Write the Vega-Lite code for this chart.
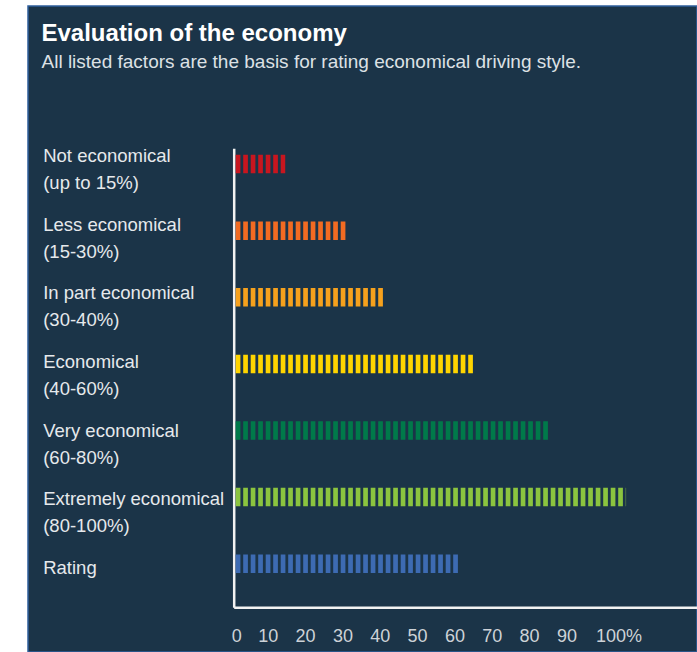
{
  "$schema": "https://vega.github.io/schema/vega-lite/v6.json",
  "width": 669,
  "height": 646,
  "autosize": {"type": "none"},
  "padding": {"left": 28, "top": 6, "right": 0, "bottom": 0},
  "background": "#ffffff",
  "config": {
    "view": {"fill": "#1b3448", "stroke": "#2f5f9c", "strokeWidth": 1.5},
    "font": "Liberation Sans"
  },
  "title": {
    "text": "Evaluation of the economy",
    "subtitle": "All listed factors are the basis for rating economical driving style.",
    "anchor": "start",
    "frame": "group",
    "orient": "top",
    "offset": -66,
    "dx": 13.5,
    "font": "Liberation Sans",
    "fontSize": 24,
    "fontWeight": "bold",
    "color": "#ffffff",
    "subtitleFont": "Liberation Sans",
    "subtitleFontSize": 19,
    "subtitleColor": "#dde1e5",
    "subtitlePadding": 7
  },
  "data": {
    "values": [
      {"factor": "Not economical\n(up to 15%)", "start": 0, "value": 13.8},
      {"factor": "Less economical\n(15-30%)", "start": 0, "value": 30.1},
      {"factor": "In part economical\n(30-40%)", "start": 0, "value": 40.3},
      {"factor": "Economical\n(40-60%)", "start": 0, "value": 64.5},
      {"factor": "Very economical\n(60-80%)", "start": 0, "value": 84.7},
      {"factor": "Extremely economical\n(80-100%)", "start": 0, "value": 105.1},
      {"factor": "Rating", "start": 0, "value": 60.4}
    ]
  },
  "resolve": {"scale": {"y": "independent"}, "axis": {"y": "independent"}},
  "layer": [
    {
      "mark": {
        "type": "rule",
        "strokeWidth": 18.5,
        "strokeDash": [4.7, 2.8],
        "strokeDashOffset": 5.5,
        "strokeCap": "butt"
      },
      "encoding": {
        "y": {
          "field": "factor",
          "type": "nominal",
          "sort": null,
          "scale": {"type": "point", "range": [142.3, 601.3], "padding": 0.446, "align": 0.266},
          "axis": {
            "orient": "left",
            "offset": -205.7,
            "title": null,
            "grid": false,
            "ticks": false,
            "tickSize": 0,
            "labels": false,
            "domain": true,
            "domainColor": "#f2f2f2",
            "domainWidth": 2.5
          }
        },
        "x": {
          "field": "start",
          "type": "quantitative",
          "scale": {"domain": [0, 124.1], "range": [205.7, 669], "nice": false, "zero": true},
          "axis": {
            "orient": "bottom",
            "offset": -44.7,
            "title": null,
            "grid": false,
            "ticks": false,
            "tickSize": 0,
            "domain": true,
            "domainColor": "#f2f2f2",
            "domainWidth": 2.5,
            "values": [0, 10, 20, 30, 40, 50, 60, 70, 80, 90, 100],
            "labelExpr": "datum.value == 100 ? '100%' : datum.label",
            "labelFlush": false,
            "labelOverlap": false,
            "labelPadding": 20.4,
            "labelFont": "Liberation Sans",
            "labelFontSize": 18,
            "labelColor": "#cdd2d7",
            "labelOffset": {
              "condition": [
                {"test": "datum.value == 0", "value": 2.5},
                {"test": "datum.value == 100", "value": 11.5}
              ],
              "value": -3.3
            }
          }
        },
        "x2": {"field": "value"},
        "color": {
          "field": "factor",
          "type": "nominal",
          "sort": null,
          "scale": {
            "domain": [
              "Not economical\n(up to 15%)",
              "Less economical\n(15-30%)",
              "In part economical\n(30-40%)",
              "Economical\n(40-60%)",
              "Very economical\n(60-80%)",
              "Extremely economical\n(80-100%)",
              "Rating"
            ],
            "range": ["#c8161f", "#f26b22", "#f6a11d", "#ffd500", "#00794a", "#8bc43f", "#3d6bb3"]
          },
          "legend": null
        }
      }
    },
    {
      "mark": {"type": "text", "text": ""},
      "encoding": {
        "y": {
          "field": "factor",
          "type": "nominal",
          "sort": null,
          "scale": {"type": "point", "range": [142.3, 601.3], "padding": 0.3463, "align": 0.282},
          "axis": {
            "orient": "left",
            "offset": -205.7,
            "title": null,
            "grid": false,
            "ticks": false,
            "tickSize": 0,
            "domain": false,
            "labelExpr": "split(datum.label, '\\n')",
            "labelAlign": "left",
            "labelBaseline": "alphabetic",
            "labelPadding": 191,
            "labelOffset": 0,
            "labelLineHeight": 27,
            "labelFont": "Liberation Sans",
            "labelFontSize": 18.5,
            "labelColor": "#e6e9ec",
            "labelLimit": 0
          }
        }
      }
    }
  ]
}
